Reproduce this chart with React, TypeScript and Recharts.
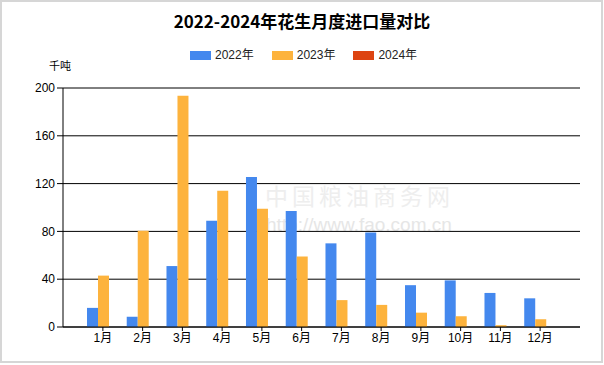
import React from "react";
import { BarChart, Bar, XAxis, YAxis, CartesianGrid } from "recharts";

const months = ["1月", "2月", "3月", "4月", "5月", "6月", "7月", "8月", "9月", "10月", "11月", "12月"];
const v2022 = [16, 8.5, 51, 89, 125.5, 97, 70, 79, 35, 39, 28.5, 24];
const v2023 = [43, 80.5, 193.5, 114, 99, 59, 22.5, 18.5, 12, 9, 1.5, 6.5];
const v2024: (number | null)[] = [null, null, null, null, null, null, null, null, null, null, null, null];
const yTicks = [0, 40, 80, 120, 160, 200];

const seriesNames = ["2022年", "2023年", "2024年"];
const seriesKeys = ["y2022", "y2023", "y2024"];
const seriesColors = ["#4488ee", "#fdb33d", "#dd4411"];

const data = months.map((m, i) => ({ month: m, y2022: v2022[i], y2023: v2023[i], y2024: v2024[i] }));

const baseFont = "Arial, 'Liberation Sans', 'Noto Sans CJK SC', sans-serif";

export default function App() {
  return (
    <div style={{ position: "absolute", left: 0, top: 0, width: 604, height: 365, background: "#fff", fontFamily: baseFont }}>
      <div style={{ position: "absolute", left: 0, top: 0, width: 603, height: 363, border: "2px solid #d6d6d6", boxSizing: "border-box" }} />
      <div style={{ position: "absolute", left: 0, top: 10, width: 604, textAlign: "center", fontSize: 17, fontWeight: "bold", fontFamily: "'Noto Sans CJK SC', sans-serif", color: "#000", lineHeight: "22px" }}>
        2022-2024年花生月度进口量对比
      </div>
      <div style={{ position: "absolute", left: 190, top: 47, display: "flex", alignItems: "center", fontSize: 12, color: "#222", lineHeight: "16px" }}>
        {seriesNames.map((n, i) => (
          <div key={n} style={{ display: "flex", alignItems: "center", marginRight: i < 2 ? 18 : 0 }}>
            <div style={{ width: 21, height: 9, background: seriesColors[i], marginRight: 4 }} />
            <span>{n}</span>
          </div>
        ))}
      </div>
      <div style={{ position: "absolute", left: 49, top: 59, fontSize: 11, color: "#000", lineHeight: "14px" }}>千吨</div>
      <div style={{ position: "absolute", left: 265, top: 181, fontSize: 23, color: "#eeeeee", letterSpacing: 4, fontFamily: "'Noto Sans CJK SC', sans-serif", lineHeight: "28px" }}>中国粮油商务网</div>
      <div style={{ position: "absolute", left: 266, top: 213, fontSize: 19, color: "#e6e6e6", lineHeight: "24px" }}>http://www.fao.com.cn</div>
      <BarChart
        width={604}
        height={365}
        data={data}
        margin={{ top: 88, right: 24, bottom: 8, left: 3 }}
        barCategoryGap="10%"
        barGap={0}
        style={{ position: "absolute", left: 0, top: 0 }}
      >
        <CartesianGrid vertical={false} stroke="#000" strokeOpacity={1} />
        <XAxis
          dataKey="month"
          padding={{ left: 20, right: 20 }}
          axisLine={{ stroke: "#000" }}
          tickLine={{ stroke: "#000" }}
          tickSize={4}
          tick={{ fill: "#000", fontSize: 12, fontFamily: baseFont }}
          height={30}
          interval={0}
        />
        <YAxis
          domain={[0, 200]}
          ticks={yTicks}
          axisLine={{ stroke: "#000" }}
          tickLine={{ stroke: "#000" }}
          tickSize={6}
          tick={{ fill: "#000", fontSize: 12, fontFamily: baseFont }}
          width={60}
          interval={0}
        />
        {seriesKeys.map((k, i) => (
          <Bar key={k} dataKey={k} fill={seriesColors[i]} isAnimationActive={false} />
        ))}
      </BarChart>
    </div>
  );
}
